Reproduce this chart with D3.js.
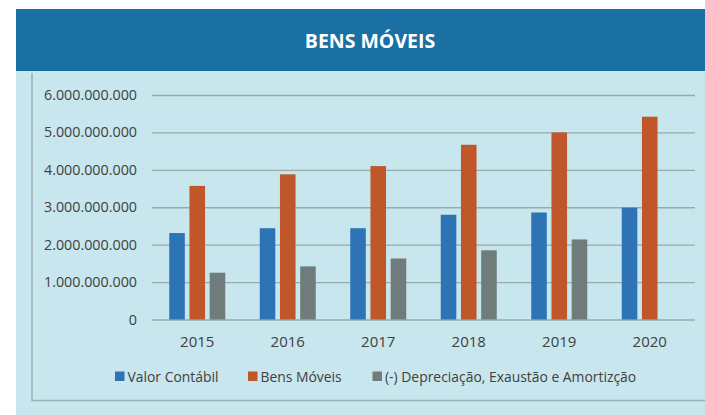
<!DOCTYPE html>
<html>
<head>
<meta charset="utf-8">
<script src="https://cdn.jsdelivr.net/npm/d3@7"></script>
<style>
  body { margin: 0; background: #ffffff; }
  svg { display: block; }
  text { font-family: "Open Sans", "Noto Sans", sans-serif; }
</style>
</head>
<body>
<svg width="705" height="415"></svg>
<script>
// dados
const years = ["2015", "2016", "2017", "2018", "2019", "2020"];
const valorContabil = [2.31e9, 2.44e9, 2.44e9, 2.80e9, 2.86e9, 2.99e9];
const bensMoveis = [3.57e9, 3.88e9, 4.10e9, 4.67e9, 5.00e9, 5.42e9];
const depreciacao = [1.25e9, 1.42e9, 1.63e9, 1.85e9, 2.14e9, null];
const seriesNames = ["Valor Contábil", "Bens Móveis", "(-) Depreciação, Exaustão e Amortizção"];
const seriesColors = ["#2e74b5", "#c0572b", "#6f7c7b"];
const yTicks = [0, 1e9, 2e9, 3e9, 4e9, 5e9, 6e9];

let seriesValues = [valorContabil, bensMoveis, depreciacao];

var svg = d3.select("svg");

// fundo e faixa do título
svg.append("rect")
    .attr("x", 16).attr("y", 9)
    .attr("width", 689).attr("height", 406)
    .style("fill", "#c8e6ee");

svg.append("rect")
    .attr("x", 16).attr("y", 9)
    .attr("width", 689).attr("height", 62)
    .style("fill", "#1a70a3");

svg.append("text")
    .attr("x", 370).attr("y", 40)
    .text("BENS MÓVEIS")
    .style("font-size", "19.5px")
    .style("font-weight", "bold")
    .style("fill", "white")
    .style("text-anchor", "middle")
    .style("dominant-baseline", "central");

// borda interna
svg.append("path")
    .attr("d", "M32,73V400.5H705")
    .style("fill", "none")
    .style("stroke", "#9db0b5")
    .style("stroke-width", 1.5);

var x0 = d3.scaleBand().domain(years).range([152, 695]).padding(0);
var x1 = d3.scaleBand().domain(seriesNames).range([17.25, 17.25 + 56]).paddingInner(0.23);
var y = d3.scaleLinear().domain([0, 6e9]).range([319.5, 95]);

var ptBR = d3.formatLocale({ decimal: ",", thousands: ".", grouping: [3], currency: ["R$", ""] });

var yAxis = svg.append("g")
    .attr("transform", "translate(152,0)")
    .call(d3.axisLeft(y)
        .tickValues(yTicks)
        .tickSize(-543)
        .tickPadding(15)
        .tickFormat(ptBR.format(",.0f")));

yAxis.select(".domain").remove();
yAxis.selectAll("line")
    .style("stroke", "#98aaae")
    .style("stroke-width", 1.4);
yAxis.selectAll("text")
    .style("font-size", "14.3px")
    .style("fill", "#404040");

var xAxis = svg.append("g")
    .attr("transform", "translate(0,319.5)")
    .call(d3.axisBottom(x0).tickSize(0).tickPadding(0));

xAxis.select(".domain").remove();
xAxis.selectAll("text")
    .attr("y", 21.5)
    .attr("dy", null)
    .style("dominant-baseline", "central")
    .style("font-size", "15px")
    .style("fill", "#404040");

// barras
var groups = svg.selectAll(".group")
    .data(years)
    .enter()
    .append("g")
    .attr("class", "group")
    .attr("transform", function (d) { return "translate(" + x0(d) + ",0)"; });

groups.selectAll("rect")
    .data(function (d, i) {
        return seriesNames.map(function (name, s) {
            return { name: name, value: seriesValues[s][i], color: seriesColors[s] };
        }).filter(function (b) { return b.value != null; });
    })
    .enter()
    .append("rect")
    .attr("x", function (d) { return x1(d.name); })
    .attr("width", x1.bandwidth())
    .attr("y", function (d) { return y(d.value); })
    .attr("height", function (d) { return y(0) - y(d.value); })
    .style("fill", function (d) { return d.color; });

// legenda
const legendX = [115, 248, 372.5];
var legend = svg.selectAll(".legend")
    .data(seriesNames)
    .enter()
    .append("g")
    .attr("class", "legend")
    .attr("transform", function (d, i) { return "translate(" + legendX[i] + ",376)"; });

legend.append("rect")
    .attr("x", 0).attr("y", -4.5)
    .attr("width", 9.5).attr("height", 9.5)
    .style("fill", function (d, i) { return seriesColors[i]; });

legend.append("text")
    .attr("x", 12.5).attr("y", 0)
    .text(function (d) { return d; })
    .style("font-size", "13.9px")
    .style("fill", "#404040")
    .style("dominant-baseline", "central");
</script>
</body>
</html>
